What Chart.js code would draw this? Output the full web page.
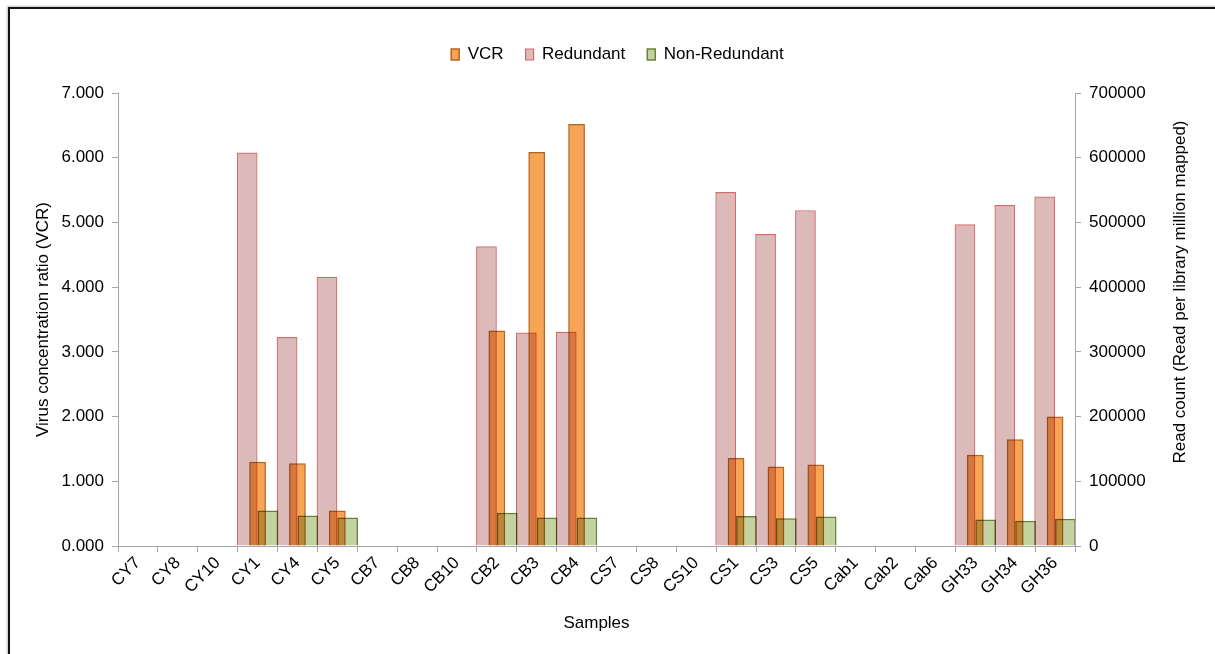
<!DOCTYPE html>
<html>
<head>
<meta charset="utf-8">
<title>Virus concentration ratio and read counts per sample</title>
<script src="https://cdn.jsdelivr.net/npm/chart.js@4.4.0/dist/chart.umd.min.js"></script>
<style>
  html, body { margin: 0; padding: 0; background: #fff; }
  #wrap { position: relative; width: 1215px; height: 654px; overflow: hidden; }
  #frame {
    position: absolute; left: 8px; top: 7px; width: 1300px; height: 800px;
    border-top: 2px solid #111; border-left: 2px solid #111;
    box-shadow: -1px -1px 2px rgba(0,0,0,0.25);
    pointer-events: none;
  }
</style>
</head>
<body>
<div id="wrap">
  <canvas id="chart" width="1215" height="654"></canvas>
  <div id="frame"></div>
</div>
<script>
// Samples on the x axis
const samples = ['CY7', 'CY8', 'CY10', 'CY1', 'CY4', 'CY5', 'CB7', 'CB8', 'CB10', 'CB2', 'CB3', 'CB4',
  'CS7', 'CS8', 'CS10', 'CS1', 'CS3', 'CS5', 'Cab1', 'Cab2', 'Cab6', 'GH33', 'GH34', 'GH36'];

// Virus concentration ratio (left axis)
const vcr = [0, 0, 0, 1.30, 1.28, 0.55, 0, 0, 0, 3.33, 6.09, 6.52,
  0, 0, 0, 1.36, 1.23, 1.26, 0, 0, 0, 1.41, 1.65, 2.00];

// Read counts per library million mapped (right axis)
const redundant = [0, 0, 0, 608000, 323000, 416000, 0, 0, 0, 463000, 330000, 331000,
  0, 0, 0, 547000, 482000, 519000, 0, 0, 0, 497000, 527000, 540000];
const nonRedundant = [0, 0, 0, 55000, 47000, 44000, 0, 0, 0, 51500, 44000, 44000,
  0, 0, 0, 46500, 43000, 45500, 0, 0, 0, 41000, 39000, 42000];

const FONT = '"Liberation Sans", Arial, Helvetica, sans-serif';
const AXIS_GREY = '#a6a6a6';

// Excel-like overlap: bars darken what they cover
const multiplyBars = {
  id: 'multiplyBars',
  beforeDatasetsDraw(chart) {
    chart.ctx.save();
    chart.ctx.globalCompositeOperation = 'multiply';
  },
  afterDatasetsDraw(chart) {
    chart.ctx.restore();
  }
};

// Leave room between the legend and the plot
const legendSpace = {
  id: 'legendSpace',
  beforeInit(chart) {
    const fit = chart.legend.fit;
    chart.legend.fit = function () {
      fit.call(this);
      this.height = 69;
    };
  }
};

// Right axis title reads bottom-to-top
const rightTitle = {
  id: 'rightTitle',
  afterDraw(chart) {
    const ctx = chart.ctx;
    ctx.save();
    ctx.translate(1180, 292);
    ctx.rotate(-Math.PI / 2);
    ctx.font = '17px ' + FONT;
    ctx.fillStyle = '#000';
    ctx.textAlign = 'center';
    ctx.textBaseline = 'middle';
    ctx.fillText('Read count (Read per library million mapped)', 0, 0);
    ctx.restore();
  }
};

new Chart(document.getElementById('chart'), {
  type: 'bar',
  data: {
    labels: samples,
    datasets: [
      {
        // not grouped: sits centred on the category, over the other two
        label: 'VCR',
        data: vcr,
        yAxisID: 'y',
        grouped: false,
        backgroundColor: '#f7a454',
        borderColor: '#b5651d',
        borderWidth: 1.5,
        barPercentage: 0.42,
        categoryPercentage: 1
      },
      {
        label: 'Redundant',
        data: redundant,
        yAxisID: 'y2',
        backgroundColor: '#dcbaba',
        borderColor: '#d46a6a',
        borderWidth: 1.2,
        barPercentage: 1,
        categoryPercentage: 1.04
      },
      {
        label: 'Non-Redundant',
        data: nonRedundant,
        yAxisID: 'y2',
        backgroundColor: '#c3d3a0',
        borderColor: '#6e7f3c',
        borderWidth: 1.5,
        barPercentage: 1,
        categoryPercentage: 1.04
      }
    ]
  },
  options: {
    responsive: false,
    animation: false,
    layout: { padding: { top: 24, left: 20, right: 0, bottom: 0 } },
    plugins: {
      legend: {
        position: 'top',
        labels: {
          font: { family: FONT, size: 17 },
          color: '#000',
          boxWidth: 8,
          boxHeight: 11,
          padding: 22
        }
      },
      tooltip: { enabled: false }
    },
    scales: {
      x: {
        type: 'category',
        position: 'bottom',
        offset: true,
        grid: { offset: true, drawOnChartArea: false, tickLength: 6, color: AXIS_GREY },
        border: { color: AXIS_GREY },
        ticks: {
          font: { family: FONT, size: 17 },
          color: '#000',
          autoSkip: false,
          minRotation: 45,
          maxRotation: 45,
          padding: 1
        },
        title: {
          display: true,
          text: 'Samples',
          font: { family: FONT, size: 17 },
          color: '#000',
          padding: { top: 0, bottom: 20 }
        },
        afterFit(scale) { scale.height = 108; }
      },
      y: {
        position: 'left',
        min: 0,
        max: 7,
        grid: { drawOnChartArea: false, tickLength: 6, color: AXIS_GREY },
        border: { color: AXIS_GREY },
        ticks: {
          stepSize: 1,
          font: { family: FONT, size: 17 },
          color: '#000',
          padding: 8,
          callback: v => v.toFixed(3)
        },
        title: {
          display: true,
          text: 'Virus concentration ratio (VCR)',
          font: { family: FONT, size: 17 },
          color: '#000',
          padding: { top: 13, bottom: 0 }
        },
        afterFit(scale) { scale.width = 98; }
      },
      y2: {
        position: 'right',
        min: 0,
        max: 700000,
        grid: { drawOnChartArea: false, tickLength: 6, color: AXIS_GREY },
        border: { color: AXIS_GREY },
        ticks: {
          stepSize: 100000,
          font: { family: FONT, size: 17 },
          color: '#000',
          padding: 8,
          callback: v => String(v)
        },
        afterFit(scale) { scale.width = 140; }
      }
    }
  },
  plugins: [multiplyBars, legendSpace, rightTitle]
});
</script>
</body>
</html>
